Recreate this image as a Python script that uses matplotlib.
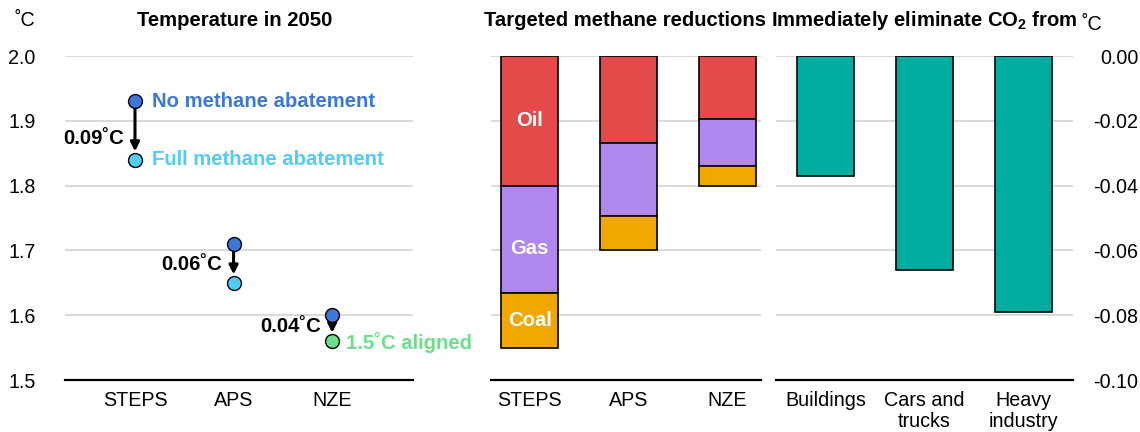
#!/usr/bin/env python3

import numpy as np
import matplotlib.pyplot as plt

plt.rcParams['font.family'] = ['Liberation Sans', 'DejaVu Sans']
plt.rcParams['axes.unicode_minus'] = False
plt.rcParams['mathtext.fontset'] = 'custom'
plt.rcParams['mathtext.rm'] = 'Liberation Sans'
plt.rcParams['mathtext.bf'] = 'Liberation Sans:bold'

# Temperature in 2050 (degC)
scenarios = ["STEPS", "APS", "NZE"]
no_abatement = [1.93, 1.71, 1.60]
full_abatement = [1.84, 1.65, 1.56]
gap_labels = ["0.09˚C", "0.06˚C", "0.04˚C"]
gap_label_y = [1.872, 1.679, 1.582]

# Targeted methane reductions (degC)
oil = [-0.040, -0.027, -0.0195]
gas = [-0.033, -0.0225, -0.0145]
coal = [-0.017, -0.0105, -0.006]

# Immediately eliminate CO2 from (degC)
sectors = ["Buildings", "Cars and\ntrucks", "Heavy\nindustry"]
co2_cut = [-0.037, -0.066, -0.079]

BLUE = "#3e78d6"
CYAN = "#4fcdf5"
GREEN = "#6be08a"
OIL_C = "#e34b4b"
GAS_C = "#b087ec"
COAL_C = "#f0a800"
TEAL = "#00ab9f"
GRID = "#d9d9d9"
FS = 14.2      # tick labels
FSB = 14.6     # bold labels / titles

W, H = 1140, 432
fig = plt.figure(figsize=(W / 100, H / 100), dpi=100)


def px_axes(x0, x1, y0, y1):
    return fig.add_axes([x0 / W, 1 - y1 / H, (x1 - x0) / W, (y1 - y0) / H])


def style(ax):
    for s in ["top", "right", "left"]:
        ax.spines[s].set_visible(False)
    ax.spines["bottom"].set_linewidth(1.6)
    ax.yaxis.grid(True, color=GRID, linewidth=1.4)
    ax.set_axisbelow(True)
    ax.tick_params(axis="both", length=0, labelsize=FS)
    ax.tick_params(axis="x", pad=8)


# ---- left panel: temperature points
ax1 = px_axes(65, 413, 56, 380)
style(ax1)
x = np.arange(len(scenarios))
ax1.set_xlim(-0.71, 2.82)
ax1.set_ylim(1.5, 2.0)
ax1.set_yticks([1.5, 1.6, 1.7, 1.8, 1.9, 2.0])
ax1.set_yticklabels(["1.5", "1.6", "1.7", "1.8", "1.9", "2.0"])
ax1.tick_params(axis="y", pad=21)
ax1.set_xticks(x)
ax1.set_xticklabels(scenarios)

low_colors = [CYAN, CYAN, GREEN]
for i in range(len(scenarios)):
    ax1.annotate("", xy=(x[i], full_abatement[i]), xytext=(x[i], no_abatement[i]),
                 arrowprops=dict(arrowstyle="-|>", color="black", lw=2.2,
                                 shrinkA=5, shrinkB=6, mutation_scale=13))
    ax1.plot(x[i], no_abatement[i], "o", ms=10, mfc=BLUE, mec="black", mew=1, zorder=5)
    ax1.plot(x[i], full_abatement[i], "o", ms=10, mfc=low_colors[i], mec="black", mew=1, zorder=5)
    ax1.annotate(gap_labels[i], (x[i], gap_label_y[i]), xytext=(-8, 0), textcoords="offset points",
                 ha="right", va="center", fontsize=FSB, fontweight="bold")

ax1.annotate("No methane abatement", (x[0], no_abatement[0]), xytext=(12, 0),
             textcoords="offset points", va="center", fontsize=FSB, fontweight="bold", color=BLUE)
ax1.annotate("Full methane abatement", (x[0], full_abatement[0]), xytext=(12, 0),
             textcoords="offset points", va="center", fontsize=FSB, fontweight="bold", color=CYAN)
ax1.annotate("1.5˚C aligned", (x[2], full_abatement[2]), xytext=(10, -1),
             textcoords="offset points", va="center", fontsize=FSB, fontweight="bold", color=GREEN)

# ---- middle panel: methane reductions
ax2 = px_axes(491, 761, 56, 380)
style(ax2)
ax2.set_xlim(-0.39, 2.34)
ax2.set_ylim(-0.10, 0.0)
ax2.set_yticks(np.linspace(-0.10, 0.0, 6))
ax2.set_yticklabels([])
ax2.set_xticks(x)
ax2.set_xticklabels(scenarios)
bw = 0.576
oil_a = np.array(oil)
gas_a = np.array(gas)
coal_a = np.array(coal)
ax2.bar(x, oil_a, bw, color=OIL_C, edgecolor="black", lw=1.2)
ax2.bar(x, gas_a, bw, bottom=oil_a, color=GAS_C, edgecolor="black", lw=1.2)
ax2.bar(x, coal_a, bw, bottom=oil_a + gas_a, color=COAL_C, edgecolor="black", lw=1.2)
ax2.text(x[0], oil_a[0] / 2, "Oil", ha="center", va="center", color="white",
         fontsize=FSB, fontweight="bold")
ax2.text(x[0], oil_a[0] + gas_a[0] / 2 - 0.003, "Gas", ha="center", va="center",
         color="white", fontsize=FSB, fontweight="bold")
ax2.text(x[0], oil_a[0] + gas_a[0] + coal_a[0] / 2, "Coal", ha="center", va="center",
         color="white", fontsize=FSB, fontweight="bold")

# ---- right panel: CO2
ax3 = px_axes(776, 1073, 56, 380)
style(ax3)
xs = np.arange(len(sectors))
ax3.set_xlim(-0.5, 2.5)
ax3.set_ylim(-0.10, 0.0)
ticks = np.linspace(-0.10, 0.0, 6)
ax3.set_yticks(ticks)
ax3.yaxis.tick_right()
ax3.set_yticklabels([f"{t:.2f}" if abs(t) > 1e-9 else "0.00" for t in ticks])
for lab in ax3.get_yticklabels():
    lab.set_horizontalalignment("right")
ax3.tick_params(axis="y", pad=47)
ax3.set_xticks(xs)
ax3.set_xticklabels(sectors, linespacing=1.15)
ax3.bar(xs, co2_cut, bw, color=TEAL, edgecolor="black", lw=1.2)

# titles and units
fig.text(235 / W, 1 - 21 / H, "Temperature in 2050", ha="center", va="center",
         fontsize=FSB, fontweight="bold")
fig.text(625 / W, 1 - 21 / H, "Targeted methane reductions", ha="center", va="center",
         fontsize=FSB, fontweight="bold")
fig.text(924 / W, 1 - 21 / H, r"Immediately eliminate CO$_\mathbf{2}$ from", ha="center",
         va="center", fontsize=FSB, fontweight="bold")
fig.text(25 / W, 1 - 21 / H, "˚C", ha="center", va="center", fontsize=FS)
fig.text(1092 / W, 1 - 24 / H, "˚C", ha="center", va="center", fontsize=FS)

plt.savefig("out.png", dpi=100)
